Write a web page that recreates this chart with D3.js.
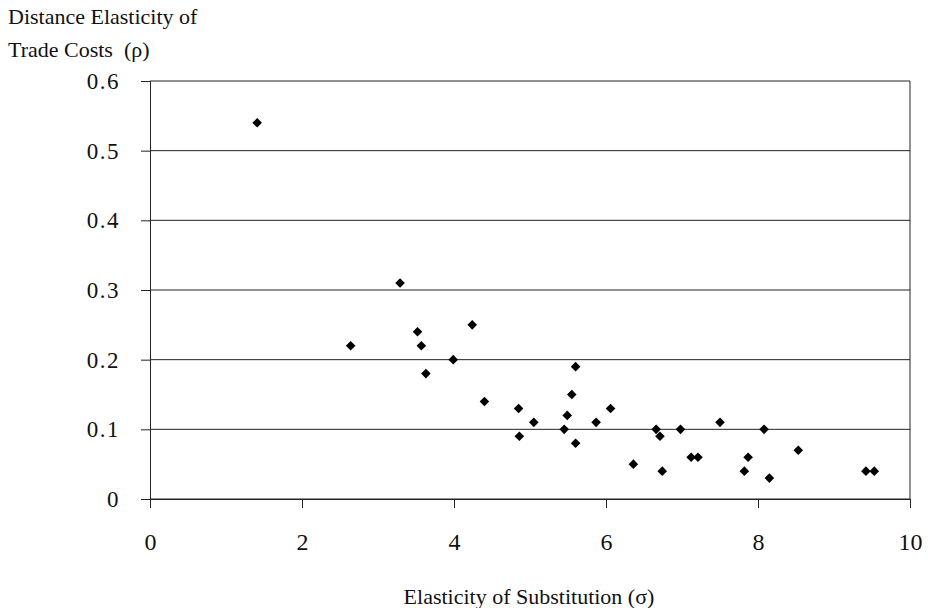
<!DOCTYPE html>
<html>
<head>
<meta charset="utf-8">
<script src="https://cdn.jsdelivr.net/npm/d3@7"></script>
<style>
  body { margin: 0; background: #fff; }
  text { font-family: "Liberation Serif", "DejaVu Serif", serif; fill: #111; }
</style>
</head>
<body>
<div id="chart"></div>
<script>
// elasticity of substitution (sigma) and distance elasticity (rho)
const sigma = [1.41, 2.64, 3.29, 3.52, 3.57, 3.63, 3.99, 4.24, 4.40, 4.85, 4.86, 5.05,
  5.45, 5.49, 5.55, 5.60, 5.60, 5.87, 6.06, 6.36, 6.66, 6.71, 6.74, 6.98, 7.12, 7.21,
  7.50, 7.82, 7.87, 8.08, 8.15, 8.53, 9.42, 9.53];
const rho = [0.54, 0.22, 0.31, 0.24, 0.22, 0.18, 0.20, 0.25, 0.14, 0.13, 0.09, 0.11,
  0.10, 0.12, 0.15, 0.19, 0.08, 0.11, 0.13, 0.05, 0.10, 0.09, 0.04, 0.10, 0.06, 0.06,
  0.11, 0.04, 0.06, 0.10, 0.03, 0.07, 0.04, 0.04];
const xTicks = [0, 2, 4, 6, 8, 10];
const yTicks = [0, 0.1, 0.2, 0.3, 0.4, 0.5, 0.6];

const data = sigma.map((s, i) => ({ s, r: rho[i] }));

const width = 928, height = 608;
const svg = d3.select("#chart").append("svg")
  .attr("width", width)
  .attr("height", height);

const x = d3.scaleLinear().domain([0, 10]).range([150, 910]);
const y = d3.scaleLinear().domain([0, 0.6]).range([499, 81]);

// horizontal gridlines
svg.append("g")
  .selectAll("line")
  .data(yTicks)
  .enter().append("line")
  .attr("x1", x(0)).attr("x2", x(10))
  .attr("y1", d => y(d)).attr("y2", d => y(d))
  .attr("stroke", "#222")
  .attr("stroke-width", 1);

// right border
svg.append("line")
  .attr("x1", x(10)).attr("x2", x(10))
  .attr("y1", y(0.6)).attr("y2", y(0))
  .attr("stroke", "#222");

// y axis
const yAxis = svg.append("g")
  .attr("transform", `translate(${x(0)},0)`)
  .call(d3.axisLeft(y).tickValues(yTicks).tickSize(9).tickPadding(21)
    .tickFormat(d => d === 0 ? "0" : d3.format(".1f")(d)));
yAxis.select(".domain").attr("stroke", "#222");
yAxis.selectAll(".tick line").attr("stroke", "#222");
yAxis.selectAll("text")
  .style("font-family", "'Liberation Serif', serif")
  .style("font-size", "23px")
  .style("letter-spacing", "1.5px")
  .attr("fill", "#111");

// x axis
const xAxis = svg.append("g")
  .attr("transform", `translate(0,${y(0)})`)
  .call(d3.axisBottom(x).tickValues(xTicks).tickSize(9).tickPadding(25));
xAxis.select(".domain").attr("stroke", "#222");
xAxis.selectAll(".tick line").attr("stroke", "#222");
xAxis.selectAll("text")
  .style("font-family", "'Liberation Serif', serif")
  .style("font-size", "24px")
  .attr("fill", "#111");

// points
const diamond = d3.symbol().type(d3.symbolSquare).size(46);
svg.append("g")
  .selectAll("path")
  .data(data)
  .enter().append("path")
  .attr("d", diamond)
  .attr("transform", d => `translate(${x(d.s)},${y(d.r)}) rotate(45)`)
  .attr("fill", "#000");

// titles
svg.append("text")
  .attr("x", 8).attr("y", 24)
  .style("font-size", "22px")
  .text("Distance Elasticity of");
svg.append("text")
  .attr("x", 8).attr("y", 57)
  .style("font-size", "22px")
  .style("white-space", "pre")
  .text("Trade Costs  (ρ)");

svg.append("text")
  .attr("x", 529).attr("y", 604)
  .style("text-anchor", "middle")
  .style("font-size", "22px")
  .text("Elasticity of Substitution (σ)");
</script>
</body>
</html>
